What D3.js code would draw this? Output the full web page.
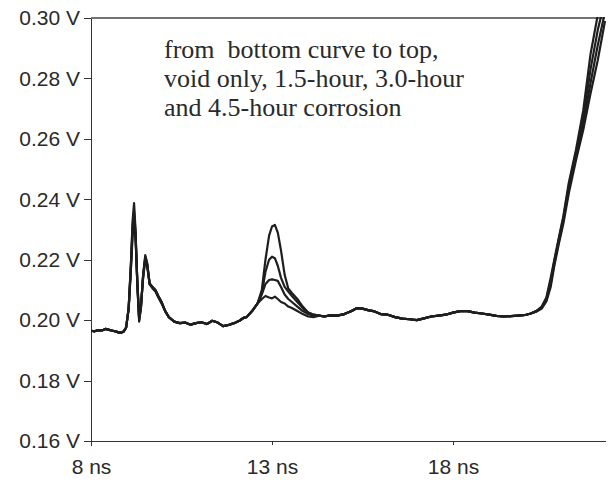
<!DOCTYPE html>
<html>
<head>
<meta charset="utf-8">
<script src="https://cdn.jsdelivr.net/npm/d3@7"></script>
<style>
  body { margin: 0; background: #fff; }
  .axis text { font-family: "Liberation Sans", Arial, sans-serif; font-size: 21px; fill: #2a2a2a; }
  .axis line, .axis path { stroke: #333; shape-rendering: crispEdges; }
  .note { font-family: "Liberation Serif", "Times New Roman", serif; font-size: 26px; fill: #2a2a2a; }
</style>
</head>
<body>
<svg id="chart" width="608" height="489"></svg>
<script>
// axis ticks
var xTicks = [8, 13, 18];
var yTicks = [0.16, 0.18, 0.20, 0.22, 0.24, 0.26, 0.28, 0.30];

// legend note, bottom curve to top
var noteLines = ['from  bottom curve to top,', 'void only, 1.5-hour, 3.0-hour', 'and 4.5-hour corrosion'];
var seriesNames = ['void only', '1.5-hour', '3.0-hour', '4.5-hour'];

// flat start, same for all traces
var startTimes = [8.0, 8.1, 8.2, 8.3, 8.4, 8.5, 8.6, 8.7, 8.8, 8.9];
var startVolts = [0.1965, 0.1963, 0.1967, 0.1966, 0.1971, 0.1968, 0.1965, 0.1962, 0.1958, 0.1962];

// first reflection (double spike near 9-10 ns)
var spikeTimes = [8.97, 9.04, 9.1, 9.15, 9.19, 9.23, 9.28, 9.33, 9.38, 9.44, 9.5, 9.55, 9.62, 9.7, 9.78, 9.86, 9.95, 10.05, 10.15, 10.3, 10.45];
var spikeVoid = [0.1975, 0.2035, 0.2160, 0.2280, 0.2330, 0.2270, 0.2130, 0.2010, 0.2050, 0.2140, 0.2200, 0.2180, 0.2120, 0.2105, 0.2095, 0.2075, 0.2055, 0.2030, 0.2010, 0.1995, 0.1990];
var spike15 = [0.1975, 0.2038, 0.2170, 0.2300, 0.2345, 0.2280, 0.2125, 0.2005, 0.2045, 0.2145, 0.2205, 0.2185, 0.2118, 0.2108, 0.2098, 0.2078, 0.2058, 0.2030, 0.2010, 0.1995, 0.1990];
var spike30 = [0.1975, 0.2040, 0.2175, 0.2315, 0.2360, 0.2290, 0.2120, 0.2000, 0.2042, 0.2148, 0.2210, 0.2188, 0.2120, 0.2110, 0.2100, 0.2080, 0.2060, 0.2030, 0.2010, 0.1995, 0.1990];
var spike45 = [0.1975, 0.2040, 0.2180, 0.2330, 0.2387, 0.2300, 0.2115, 0.1995, 0.2040, 0.2150, 0.2215, 0.2190, 0.2122, 0.2110, 0.2100, 0.2080, 0.2060, 0.2030, 0.2010, 0.1995, 0.1990];

// quiet stretch before the void
var midTimes = [10.6, 10.75, 10.9, 11.05, 11.2, 11.35, 11.5, 11.65, 11.8, 11.95, 12.1, 12.22];
var midVolts = [0.1992, 0.1985, 0.1990, 0.1993, 0.1987, 0.1998, 0.1992, 0.1980, 0.1984, 0.1990, 0.1998, 0.2008];

// void reflection near 13 ns, grows with corrosion time
var humpTimes = [12.3, 12.45, 12.6, 12.72, 12.82, 12.92, 13.0, 13.08, 13.16, 13.25, 13.35, 13.45, 13.55, 13.7, 13.85, 14.0, 14.15, 14.3];
var humpVoid = [0.2010, 0.2030, 0.2055, 0.2070, 0.2080, 0.2075, 0.2072, 0.2078, 0.2070, 0.2060, 0.2055, 0.2045, 0.2040, 0.2030, 0.2020, 0.2012, 0.2010, 0.2015];
var hump15 = [0.2010, 0.2030, 0.2055, 0.2085, 0.2120, 0.2133, 0.2135, 0.2133, 0.2130, 0.2110, 0.2085, 0.2070, 0.2060, 0.2045, 0.2030, 0.2020, 0.2015, 0.2015];
var hump30 = [0.2010, 0.2030, 0.2055, 0.2090, 0.2160, 0.2200, 0.2210, 0.2205, 0.2180, 0.2140, 0.2110, 0.2095, 0.2080, 0.2060, 0.2040, 0.2025, 0.2018, 0.2015];
var hump45 = [0.2010, 0.2030, 0.2055, 0.2100, 0.2200, 0.2280, 0.2310, 0.2315, 0.2290, 0.2230, 0.2150, 0.2105, 0.2090, 0.2070, 0.2045, 0.2025, 0.2018, 0.2015];

// long flat tail
var tailTimes = [14.45, 14.6, 14.8, 15.0, 15.2, 15.35, 15.5, 15.65, 15.8, 16.0, 16.2, 16.4, 16.6, 16.8, 17.0, 17.2, 17.4, 17.6, 17.8, 18.0, 18.2, 18.4, 18.6, 18.8, 19.0, 19.2, 19.4, 19.6, 19.8, 20.0, 20.15];
var tailVolts = [0.2012, 0.2016, 0.2015, 0.2020, 0.2030, 0.2040, 0.2038, 0.2033, 0.2030, 0.2020, 0.2018, 0.2010, 0.2005, 0.2003, 0.2000, 0.2006, 0.2012, 0.2015, 0.2018, 0.2025, 0.2030, 0.2030, 0.2025, 0.2022, 0.2018, 0.2014, 0.2012, 0.2013, 0.2015, 0.2017, 0.2022];

// open end, steep rise
var riseTimes = [20.3, 20.45, 20.58, 20.7, 20.8, 20.92, 21.05, 21.2, 21.4, 21.6, 21.8, 22.0, 22.2];
var riseVoid = [0.2028, 0.2038, 0.2062, 0.2110, 0.2180, 0.2250, 0.2320, 0.2420, 0.2530, 0.2630, 0.2750, 0.2860, 0.2990];
var rise15 = [0.2029, 0.2040, 0.2067, 0.2120, 0.2188, 0.2258, 0.2330, 0.2432, 0.2543, 0.2650, 0.2785, 0.2910, 0.3020];
var rise30 = [0.2030, 0.2042, 0.2070, 0.2130, 0.2195, 0.2265, 0.2338, 0.2445, 0.2555, 0.2672, 0.2830, 0.2960, 0.3060];
var rise45 = [0.2030, 0.2045, 0.2075, 0.2140, 0.2200, 0.2270, 0.2345, 0.2455, 0.2565, 0.2695, 0.2880, 0.3010, 0.3100];

function zip(ts, vs) { return ts.map(function(t, i) { return [t, vs[i]]; }); }
function trace(spike, hump, rise) {
  return [].concat(zip(startTimes, startVolts), zip(spikeTimes, spike), zip(midTimes, midVolts),
                   zip(humpTimes, hump), zip(tailTimes, tailVolts), zip(riseTimes, rise));
}
var series = [
  trace(spikeVoid, humpVoid, riseVoid),
  trace(spike15, hump15, rise15),
  trace(spike30, hump30, rise30),
  trace(spike45, hump45, rise45)
];

var margin = {top: 18, right: 3, bottom: 48, left: 91};
var svg = d3.select('#chart');
var width = 608 - margin.left - margin.right;
var height = 489 - margin.top - margin.bottom;
var g = svg.append('g').attr('transform', 'translate(' + margin.left + ',' + margin.top + ')');

var x = d3.scaleLinear().domain([8, 22.2]).range([0, width]);
var y = d3.scaleLinear().domain([0.16, 0.30]).range([height, 0]);

g.append('clipPath').attr('id', 'plotClip')
  .append('rect').attr('x', 0).attr('y', -1).attr('width', width + 2).attr('height', height + 1);

// top border of plot area
g.append('line')
  .attr('x1', 0).attr('x2', width).attr('y1', 0).attr('y2', 0)
  .attr('stroke', '#444').attr('stroke-width', 1.3);

var yAxis = g.append('g').attr('class', 'axis')
  .call(d3.axisLeft(y).tickValues(yTicks).tickSize(7).tickSizeOuter(0).tickPadding(4)
    .tickFormat(function(d) { return d3.format('.2f')(d) + ' V'; }));

var xAxis = g.append('g').attr('class', 'axis')
  .attr('transform', 'translate(0,' + height + ')')
  .call(d3.axisBottom(x).tickValues(xTicks).tickSize(4).tickSizeOuter(0).tickPadding(14)
    .tickFormat(function(d) { return d + ' ns'; }));
xAxis.selectAll('.tick').filter(function(d) { return d === 8; }).select('line').attr('y2', 5);

var line = d3.line()
  .x(function(d) { return x(d[0]); })
  .y(function(d) { return y(d[1]); })
  .curve(d3.curveLinear);

g.append('g').attr('clip-path', 'url(#plotClip)')
  .selectAll('path.trace')
  .data(series)
  .enter().append('path')
  .attr('class', 'trace')
  .attr('data-name', function(d, i) { return seriesNames[i]; })
  .attr('d', line)
  .attr('fill', 'none')
  .attr('stroke', '#1e1e1e')
  .attr('stroke-width', 2.2)
  .attr('stroke-linejoin', 'round');

svg.append('g').selectAll('text.note')
  .data(noteLines)
  .enter().append('text')
  .attr('class', 'note')
  .attr('x', 164)
  .attr('y', function(d, i) { return 58 + i * 29; })
  .attr('xml:space', 'preserve')
  .style('white-space', 'pre')
  .text(function(d) { return d; });
</script>
</body>
</html>
